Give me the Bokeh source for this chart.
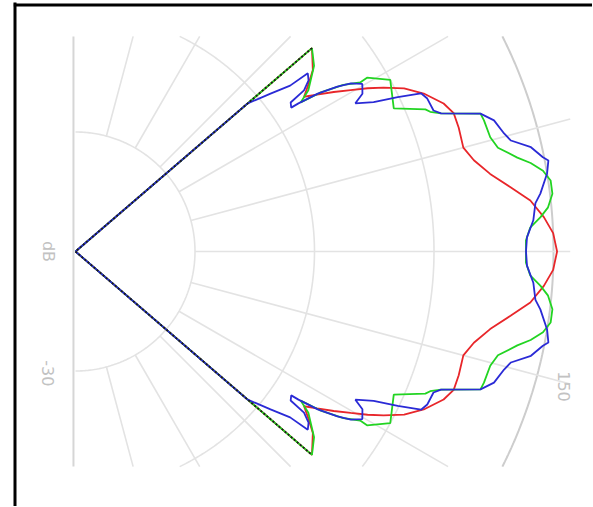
import numpy as np
from bokeh.plotting import figure
from bokeh.models import Range1d
from bokeh.embed import file_html
from bokeh.resources import INLINE
from bokeh.core.properties import value

# ---------------- data (angle in degrees, level in dB) ----------------
red_angle = [-40.7, -40.7, -37.4, -35.5, -34.1, -33.0, -31.7, -30.4, -29.2, -28.0,
             -26.4, -24.4, -21.9, -20.1, -17.9, -15.0, -12.9, -10.6, -8.4, -6.4,
             -4.2, -2.2, 0.0, 2.2, 4.2, 6.4, 8.4, 10.6, 12.9, 15.0,
             17.9, 20.1, 21.9, 24.4, 26.4, 28.0, 29.2, 30.4, 31.7, 33.0,
             34.1, 35.5, 37.4, 40.7, 40.7]
red_db = [-40.0, -13.9, -15.0, -16.1, -16.9, -15.9, -14.6, -13.3, -12.0, -10.8,
          -9.3, -8.0, -6.8, -6.3, -6.3, -6.4, -5.8, -4.7, -3.2, -1.7,
          -0.7, 0.0, 0.3, 0.0, -0.7, -1.7, -3.2, -4.7, -5.8, -6.4,
          -6.3, -6.3, -6.8, -8.0, -9.3, -10.8, -12.0, -13.3, -14.6, -15.9,
          -16.9, -16.1, -15.0, -13.9, -40.0]

green_angle = [-40.7, -40.7, -37.9, -34.7, -33.5, -33.0, -31.9, -30.7, -30.8, -28.6,
               -24.2, -22.1, -21.5, -20.7, -18.8, -17.8, -15.4, -13.8, -12.0, -11.0,
               -9.8, -8.5, -6.9, -5.3, -4.2, -3.0, -1.4, 0.0, 1.4, 3.0,
               4.2, 5.3, 6.9, 8.5, 9.8, 11.0, 12.0, 13.8, 15.4, 17.8,
               18.8, 20.7, 21.5, 22.1, 24.2, 28.6, 30.8, 30.7, 31.9, 33.0,
               33.5, 34.7, 37.9, 40.7, 40.7]
green_db = [-40.0, -13.9, -14.7, -16.3, -17.4, -15.6, -13.6, -12.3, -11.6, -10.0,
            -10.8, -8.4, -8.1, -7.3, -4.2, -4.1, -4.0, -3.6, -2.2, -1.2,
            -0.3, 0.2, 0.2, -0.3, -1.0, -1.9, -2.3, -2.3, -2.3, -1.9,
            -1.0, -0.3, 0.2, 0.2, -0.3, -1.2, -2.2, -3.6, -4.0, -4.1,
            -4.2, -7.3, -8.1, -8.4, -10.8, -10.0, -11.6, -12.3, -13.6, -15.6,
            -17.4, -16.3, -14.7, -13.9, -40.0]

blue_angle = [-40.7, -40.7, -39.0, -37.7, -37.5, -36.3, -35.2, -34.7, -33.7, -33.6,
              -33.1, -32.2, -31.4, -30.3, -28.8, -27.9, -26.6, -25.6, -24.6, -23.5,
              -21.5, -20.7, -18.8, -17.4, -15.4, -14.3, -12.9, -11.4, -10.9, -9.4,
              -7.1, -6.0, -3.9, -1.8, 0.0, 1.8, 3.9, 6.0, 7.1, 9.4,
              10.9, 11.4, 12.9, 14.3, 15.4, 17.4, 18.8, 20.7, 21.5, 23.5,
              24.6, 25.6, 26.6, 27.9, 28.8, 30.3, 31.4, 32.2, 33.1, 33.6,
              33.7, 34.7, 35.2, 36.3, 37.5, 37.7, 39.0, 40.7, 40.7]
blue_db = [-40.0, -21.0, -19.0, -17.3, -15.5, -15.8, -16.6, -18.1, -18.3, -17.6,
           -15.8, -14.1, -13.0, -12.2, -12.6, -13.5, -12.1, -10.1, -8.2, -7.9,
           -7.8, -7.3, -4.2, -3.3, -2.8, -2.4, -0.9, -0.1, 0.3, 0.0,
           -0.8, -1.3, -1.6, -2.2, -2.3, -2.2, -1.6, -1.3, -0.8, 0.0,
           0.3, -0.1, -0.9, -2.4, -2.8, -3.3, -4.2, -7.3, -7.8, -7.9,
           -8.2, -10.1, -12.1, -13.5, -12.6, -12.2, -13.0, -14.1, -15.8, -17.6,
           -18.3, -18.1, -16.6, -15.8, -15.5, -17.3, -19.0, -21.0, -40.0]

db_floor = -40.0
ring_db = [-30, -20, -10, 0]
spoke_angles = [-75, -60, -45, -30, -15, 0, 15, 30, 45, 60, 75]
label_texts = ["dB", "-30", "150"]

# ---------------- layout ----------------
W, H = 592, 506
PX = 11.95            # pixels per dB
CX, CY = 75.0, 251.0  # pole position on the canvas (px)

p = figure(width=W, height=H, output_backend="svg", toolbar_location=None,
           x_range=Range1d(-CX / PX, (W - CX) / PX),
           y_range=Range1d(-(H - CY) / PX, CY / PX),
           x_axis_location=None, y_axis_location=None,
           min_border=0, min_border_left=0, min_border_right=0,
           min_border_top=0, min_border_bottom=0)
p.grid.visible = False
p.outline_line_color = None
p.background_fill_color = "white"
p.border_fill_color = "white"

def to_xy(ang, db):
    rho = np.asarray(db, dtype=float) - db_floor
    t = np.radians(np.asarray(ang, dtype=float))
    return rho * np.cos(t), rho * np.sin(t)

# clip rectangle of the polar panel (data units)
XMIN, XMAX, YLIM = -0.17, 41.4, 18.0

# rings
for dbv in ring_db:
    rho = dbv - db_floor
    amax = 90.0 if rho <= YLIM else np.degrees(np.arcsin(YLIM / rho))
    t = np.radians(np.linspace(-amax, amax, 240))
    outer = dbv == ring_db[-1]
    p.line(rho * np.cos(t), rho * np.sin(t),
           line_color="#cdcdcd" if outer else "#e3e3e3",
           line_width=2.0 if outer else 1.6)

# spokes
r_in = ring_db[0] - db_floor
for a in spoke_angles:
    t = np.radians(a)
    c, s = np.cos(t), np.sin(t)
    rmax = XMAX / c
    if abs(s) > 1e-9:
        rmax = min(rmax, YLIM / abs(s))
    p.line([r_in * c, rmax * c], [r_in * s, rmax * s], line_color="#e3e3e3", line_width=1.6)

# left axis line
p.line([XMIN, XMIN], [-YLIM, YLIM], line_color="#d6d6d6", line_width=2)

# series
for ang, db, col in [(red_angle, red_db, "#e8262a"),
                     (green_angle, green_db, "#22d422"),
                     (blue_angle, blue_db, "#2a2ad6")]:
    x, y = to_xy(ang, db)
    p.line(x, y, line_color=col, line_width=1.8)

# overlapping straight edges look dark
rx, ry = to_xy(red_angle, red_db)
p.line(rx[:2], ry[:2], line_color="#1a1a1a", line_width=1.8, line_dash="2 2")
p.line(rx[-2:], ry[-2:], line_color="#1a1a1a", line_width=1.8, line_dash="2 2")

# labels
p.text(x=[-2.3, -2.3, 40.9], y=[0.0, -10.2, -11.3], text=label_texts,
       angle=-np.pi / 2, text_font=value("DejaVu Sans"), text_font_size="16px",
       text_color="#c2c2c2", text_align="center", text_baseline="middle")

# black frame (left and top edges)
xl = (14.5 - CX) / PX
yt = (CY - 4.5) / PX
p.line([xl, xl], [-(H - CY) / PX, yt + 0.2], line_color="black", line_width=3)
p.line([xl - 0.1, (W - CX) / PX], [yt, yt], line_color="black", line_width=3)

open("out.html", "w").write(file_html(p, INLINE))
